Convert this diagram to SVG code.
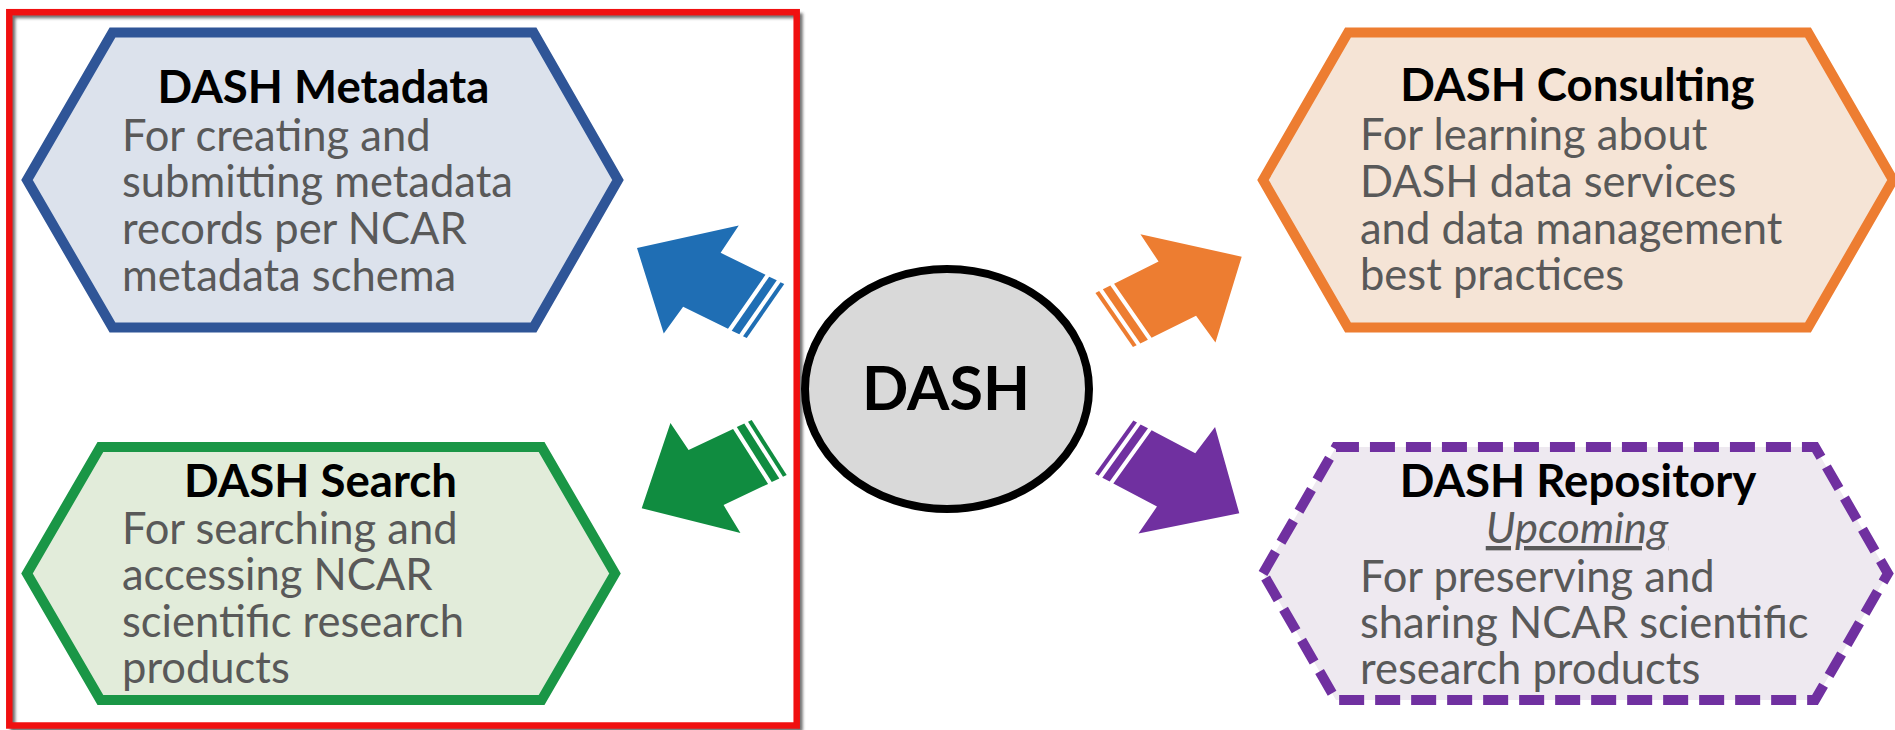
<svg xmlns="http://www.w3.org/2000/svg" width="1895" height="730" viewBox="0 0 1895 730">
  <defs>
    <filter id="soft" x="-5%" y="-5%" width="110%" height="110%">
      <feGaussianBlur stdDeviation="1.5"/>
    </filter>
    <style>
      .title { font-family: Lato, "Liberation Sans", sans-serif; font-weight: 700; font-size: 45.6px; fill: #000; text-anchor: middle; }
      .body { font-family: Lato, "Liberation Sans", sans-serif; font-size: 43.5px; fill: #595959; }
      .hub { font-family: Lato, "Liberation Sans", sans-serif; font-weight: 700; font-size: 61px; fill: #000; text-anchor: middle; }
      .hex { stroke-width: 10; stroke-linejoin: miter; }
      .arrow polygon, .arrow rect { vector-effect: non-scaling-stroke; stroke: #000; stroke-width: 1.6; stroke-linejoin: miter; }
    </style>
    <!-- striped block arrow in a unit frame: u 0..100 from tail to tip, v -100..100 across -->
    <g id="striped-arrow">
      <rect x="0" y="-50" width="2.9" height="100"/>
      <rect x="5.8" y="-50" width="5.9" height="100"/>
      <polygon points="14.6,-50 49.5,-50 50,-100 100,0 50,100 49.5,50 14.6,50"/>
    </g>
  </defs>

  <rect width="1895" height="730" fill="#fff"/>

  <!-- frame around the two left services -->
  <g id="frame">
    <rect x="12.8" y="15.7" width="787.4" height="713.3" fill="none" stroke="#333" stroke-width="5" opacity="0.7" filter="url(#soft)"/>
    <rect x="9.3" y="12.2" width="787.4" height="713.3" fill="none" stroke="#f01010" stroke-width="6.5"/>
  </g>

  <g id="metadata">
    <polygon class="hex" points="27,180 112.5,32.5 533.5,32.5 618,180 533.5,327.5 112.5,327.5" fill="#dce2ec" stroke="#2f5597"/>
    <text class="title" x="323.5" y="103">DASH Metadata</text>
    <text class="body">
      <tspan x="122" y="151">For creating and</tspan>
      <tspan x="122" y="197">submitting metadata</tspan>
      <tspan x="122" y="244">records per NCAR</tspan>
      <tspan x="122" y="291">metadata schema</tspan>
    </text>
  </g>

  <g id="search">
    <polygon class="hex" points="27,573.5 100.4,447 541.6,447 615,573.5 541.6,700 100.4,700" fill="#e2ecda" stroke="#1a9646"/>
    <text class="title" x="320.5" y="497">DASH Search</text>
    <text class="body">
      <tspan x="122" y="544">For searching and</tspan>
      <tspan x="122" y="590">accessing NCAR</tspan>
      <tspan x="122" y="637">scientific research</tspan>
      <tspan x="122" y="683">products</tspan>
    </text>
  </g>

  <g id="consulting">
    <polygon class="hex" points="1263,180 1348,32.5 1808,32.5 1893,180 1808,327.5 1348,327.5" fill="#f5e4d6" stroke="#ed7d31"/>
    <text class="title" x="1577.5" y="101">DASH Consulting</text>
    <text class="body">
      <tspan x="1360" y="150">For learning about</tspan>
      <tspan x="1360" y="197">DASH data services</tspan>
      <tspan x="1360" y="244">and data management</tspan>
      <tspan x="1360" y="290">best practices</tspan>
    </text>
  </g>

  <g id="repository">
    <polygon class="hex" points="1263,573.5 1336,447 1815,447 1888,573.5 1815,700 1336,700" fill="#eee9f0" stroke="#7030a0" stroke-dasharray="25 11"/>
    <text class="title" x="1578" y="497">DASH Repository</text>
    <text class="body" x="1577" y="543" text-anchor="middle" font-style="italic" text-decoration="underline">Upcoming</text>
    <text class="body">
      <tspan x="1360" y="592">For preserving and</tspan>
      <tspan x="1360" y="638">sharing NCAR scientific</tspan>
      <tspan x="1360" y="684">research products</tspan>
    </text>
  </g>

  <g id="dash">
    <ellipse cx="947" cy="389" rx="142" ry="120" fill="#d9d9d9" stroke="#000" stroke-width="8"/>
    <text class="hub" x="946" y="410">DASH</text>
  </g>

  <!-- connectors: striped arrows from the hub to each service -->
  <g id="connectors">
    <g class="arrow" fill="#1f6eb4" transform="matrix(-1.285 -0.63 0.375 -0.54 765.5 311)"><use href="#striped-arrow"/></g>
    <g class="arrow" fill="#108c40" transform="matrix(-1.275 0.608 -0.35 -0.55 769.2 447.5)"><use href="#striped-arrow"/></g>
    <g class="arrow" fill="#ed7d31" transform="matrix(1.275 -0.633 -0.375 -0.542 1114.2 320)"><use href="#striped-arrow"/></g>
    <g class="arrow" fill="#7030a0" transform="matrix(1.251 0.661 0.383 -0.533 1114.2 447.2)"><use href="#striped-arrow"/></g>
  </g>
</svg>
